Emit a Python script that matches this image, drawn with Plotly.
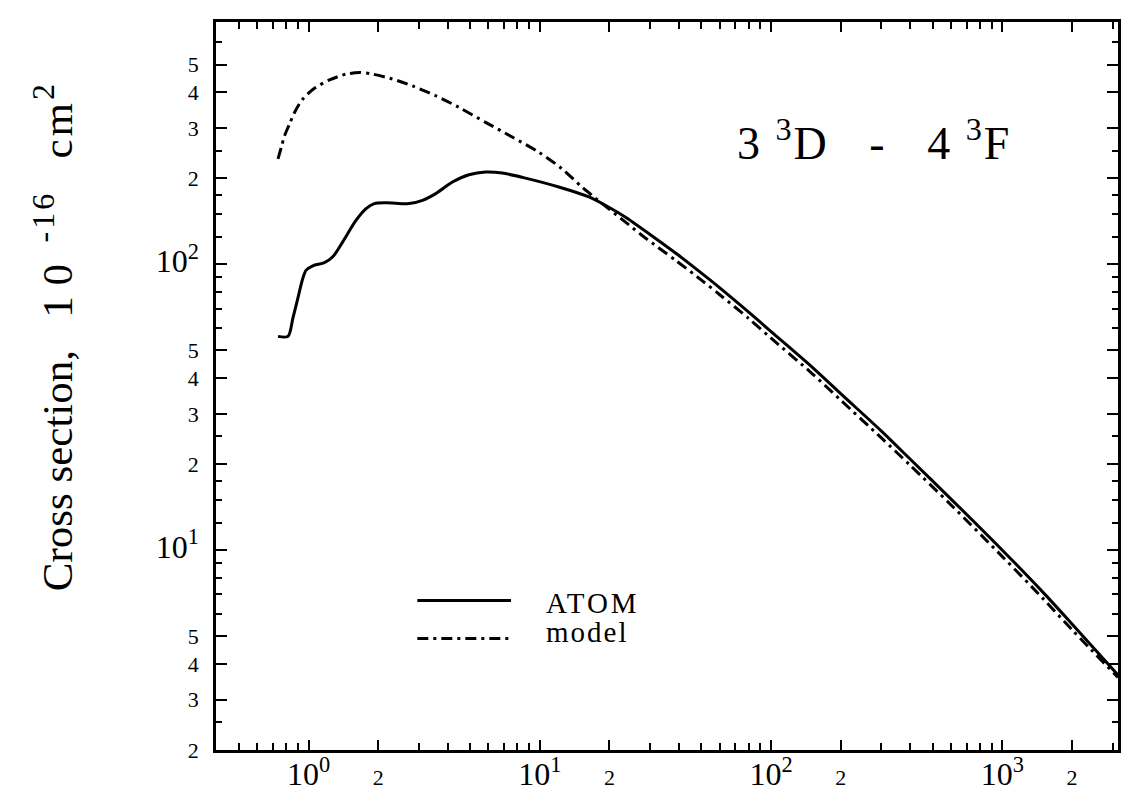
import numpy as np
import plotly.graph_objects as go

# ---- data ----
atom_x = [0.738, 0.815, 0.856, 0.899, 0.945, 0.977, 1.044, 1.172, 1.273, 1.406, 1.606, 1.773, 1.925,
          2.162, 2.725, 3.11, 3.55, 4.19, 4.94, 5.83, 6.88, 8.67, 12.08, 16.3, 19.8, 23.4, 30.5, 39.7,
          50, 60, 80, 100, 150, 200, 300, 400, 600, 1000, 1500, 2000, 3162]
atom_y = [56.0, 56.0, 64.8, 76.1, 89.4, 95.5, 98.9, 101.4, 106.3, 119.9, 142.7, 156.7, 163.2,
          164.4, 163.2, 167.5, 176.8, 194.1, 205.9, 210.4, 208.7, 200.4, 186.6, 172.2, 158.8, 146.6, 126.0, 107.8,
          93.2, 82.8, 68.1, 58.2, 43.8, 35.3, 26.1, 20.8, 15.1, 10.0, 7.12, 5.52, 3.66]

model_x = [0.738, 0.763, 0.788, 0.828, 0.870, 0.945, 1.061, 1.232, 1.453, 1.659, 1.894, 2.31, 2.82,
           3.55, 4.48, 5.83, 7.60, 9.90, 12.48, 15.2, 16.8, 19.8, 23.4, 27.6, 32.6, 39.1,
           50, 60, 80, 100, 150, 200, 300, 400, 600, 1000, 1500, 2000, 3162]
model_y = [234, 257, 282, 310, 340, 379, 413, 442, 463, 469, 463, 445, 421,
           389, 354, 314, 279, 247, 216, 186.6, 174.4, 156.7, 140.9, 126.5, 114.4, 102.6,
           88.1, 78.3, 64.7, 55.2, 41.6, 33.5, 24.7, 19.8, 14.4, 9.5, 6.77, 5.27, 3.59]

x_major = [1, 2, 10, 20, 100, 200, 1000, 2000]
x_major_text = ["10<sup>0</sup>", "2", "10<sup>1</sup>", "2", "10<sup>2</sup>", "2", "10<sup>3</sup>", "2"]
x_minor = [0.4, 0.5, 0.6, 0.7, 0.8, 0.9] + [m * 10 ** d for d in range(0, 4) for m in (3, 4, 5, 6, 7, 8, 9)]

y_major = [2, 3, 4, 5, 10, 20, 30, 40, 50, 100, 200, 300, 400, 500]
y_major_text = ["2", "3", "4", "5", "10<sup>1</sup>", "2", "3", "4", "5", "10<sup>2</sup>", "2", "3", "4", "5"]
y_minor = [m * 10 ** d for d in range(0, 3) for m in (1.25, 1.5, 1.75, 2.5, 6, 7, 8, 9)]

FONT = "Liberation Serif"
BIG = 32
SMALL = 22
NB = "\u00a0"

def fmt(lbl):
    if "<sup>" in lbl:
        return f"<span style='font-size:{BIG}px'>{lbl}</span>"
    return lbl

L, R, T, B = 216, 2, 22, 41
W, H = 1123, 794
PW, PH = W - L - R, H - T - B

def px(xp):
    return (xp - L) / PW

def py(yp):
    return (H - B - yp) / PH

DASH = "11px,5px,3px,5px"

fig = go.Figure()
fig.add_trace(go.Scatter(x=atom_x, y=atom_y, mode="lines", name="ATOM",
                         line=dict(color="black", width=3, shape="spline", smoothing=0.8)))
fig.add_trace(go.Scatter(x=model_x, y=model_y, mode="lines", name="model",
                         line=dict(color="black", width=3, dash=DASH, shape="spline", smoothing=0.8)))

axis_common = dict(type="log", showgrid=False, zeroline=False, showline=True, linecolor="black",
                   linewidth=2.5, mirror="ticks", ticks="inside", tickcolor="black", tickwidth=2,
                   tickfont=dict(family=FONT, size=SMALL, color="black"), tickmode="array")

fig.update_xaxes(**axis_common, range=[-0.40, 3.5], tickvals=x_major,
                 ticktext=[fmt(t) for t in x_major_text], ticklen=10, ticklabelstandoff=6,
                 minor=dict(tickmode="array", tickvals=x_minor, ticks="inside", ticklen=7,
                            tickwidth=2, tickcolor="black", showgrid=False))
fig.update_yaxes(**axis_common, range=[np.log10(2), 2.848], tickvals=y_major,
                 ticktext=[fmt(t) for t in y_major_text], ticklen=11, ticklabelstandoff=10,
                 minor=dict(tickmode="array", tickvals=y_minor, ticks="inside", ticklen=6,
                            tickwidth=2, tickcolor="black", showgrid=False))

# manual legend
fig.add_shape(type="line", xref="paper", yref="paper", x0=px(418), x1=px(512), y0=py(603), y1=py(603),
              line=dict(color="black", width=3))
fig.add_shape(type="line", xref="paper", yref="paper", x0=px(418), x1=px(512), y0=py(641), y1=py(641),
              line=dict(color="black", width=3, dash=DASH))
fig.add_annotation(xref="paper", yref="paper", x=px(545), y=py(605),
                   text="<span style='letter-spacing:3px'>ATOM</span>", showarrow=False,
                   xanchor="left", yanchor="middle", font=dict(family=FONT, size=29, color="black"))
fig.add_annotation(xref="paper", yref="paper", x=px(545), y=py(635),
                   text="<span style='letter-spacing:2px'>model</span>", showarrow=False,
                   xanchor="left", yanchor="middle", font=dict(family=FONT, size=29, color="black"))

# transition label
fig.add_annotation(xref="paper", yref="paper", x=px(876), y=py(140),
                   text=f"<span style='letter-spacing:2px'>3{NB}<sup>3</sup>D{NB}{NB}{NB}-{NB}{NB}{NB}4{NB}<sup>3</sup>F</span>",
                   showarrow=False, xanchor="center", yanchor="middle",
                   font=dict(family=FONT, size=46, color="black"))

# y axis title
SUP = "<sup><span style='font-size:32px;letter-spacing:3px'>{}</span></sup>"
title = ("Cross section," + NB * 3 + "1" + NB + "0" + NB * 2 + SUP.format("-16") + NB * 3
         + "<span style='letter-spacing:3px'>cm</span>" + SUP.format("2"))
fig.add_annotation(xref="paper", yref="paper", x=px(52), y=py(338), text=title,
                   showarrow=False, textangle=-90, xanchor="center", yanchor="middle",
                   font=dict(family=FONT, size=43, color="black"))

fig.update_layout(width=W, height=H, margin=dict(l=L, r=R, t=T, b=B), showlegend=False,
                  plot_bgcolor="white", paper_bgcolor="white")

fig.write_html("out.html")
